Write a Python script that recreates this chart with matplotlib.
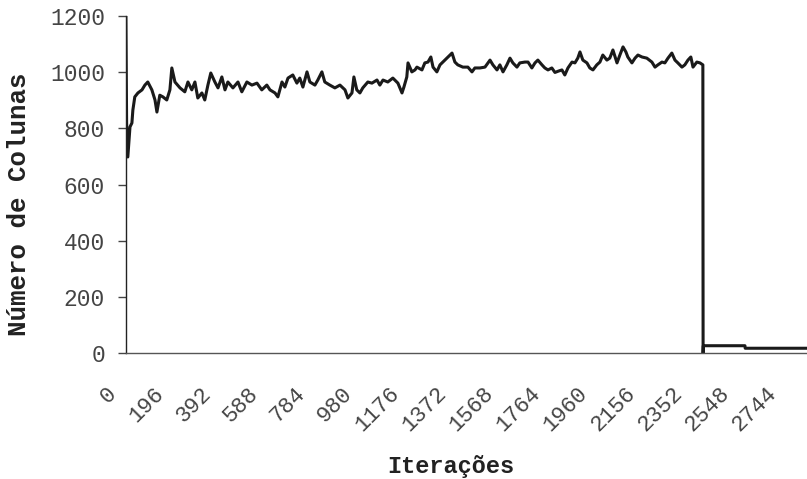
import numpy as np
import matplotlib
matplotlib.use("Agg")
import matplotlib.pyplot as plt
from matplotlib.transforms import ScaledTranslation

# values (iteration, number of columns)
iteracoes = [
    0, 3, 8, 17, 25, 29, 37, 50, 67, 79, 91, 108, 121, 129, 141, 154, 170, 183,
    191, 204, 225, 245, 258, 274, 287, 299, 316, 328, 341, 353, 370, 383, 399,
    412, 424, 445, 466, 482, 503, 524, 545, 565, 586, 599, 620, 632, 649, 661,
    674, 694, 711, 723, 736, 753, 765, 786, 798, 815, 827, 848, 869, 890, 911,
    923, 940, 948, 960, 973, 985, 1006, 1023, 1044, 1056, 1069, 1089, 1110,
    1131, 1148, 1156, 1168, 1173, 1189, 1202, 1210, 1231, 1243, 1256, 1268,
    1277, 1293, 1306, 1318, 1339, 1356, 1368, 1380, 1401, 1422, 1439, 1451,
    1472, 1493, 1514, 1526, 1543, 1555, 1568, 1584, 1597, 1609, 1626, 1638,
    1659, 1672, 1688, 1701, 1713, 1730, 1742, 1755, 1771, 1784, 1796, 1813,
    1825, 1838, 1855, 1867, 1879, 1888, 1900, 1917, 1929, 1942, 1958, 1971,
    1983, 2000, 2012, 2025, 2042, 2054, 2067, 2079, 2087, 2104, 2117, 2129,
    2146, 2166, 2187, 2200, 2212, 2229, 2241, 2254, 2270, 2283, 2295, 2312,
    2324, 2337, 2349, 2358, 2374, 2387, 2399, 2400, 2401, 2574, 2575, 2832,
]
colunas = [
    1200, 820, 698, 805, 819, 865, 912, 926, 937, 954, 965, 937, 901, 858, 918,
    912, 901, 937, 1015, 965, 944, 930, 965, 937, 965, 908, 926, 901, 954, 997,
    965, 944, 983, 937, 965, 944, 965, 930, 965, 954, 961, 937, 954, 937, 926,
    912, 965, 947, 979, 990, 961, 979, 947, 1001, 965, 954, 972, 1001, 965, 954,
    944, 954, 937, 908, 926, 983, 937, 926, 944, 965, 961, 972, 954, 972, 965,
    979, 961, 926, 947, 983, 1033, 1001, 1008, 1018, 1008, 1033, 1036, 1054,
    1018, 1001, 1026, 1036, 1054, 1068, 1036, 1026, 1018, 1018, 1001, 1015,
    1015, 1018, 1043, 1026, 1008, 1026, 1001, 1026, 1050, 1033, 1018, 1033,
    1036, 1036, 1015, 1033, 1043, 1026, 1015, 1008, 1015, 999, 1003, 1008, 990,
    1015, 1036, 1033, 1050, 1072, 1043, 1033, 1015, 1008, 1026, 1036, 1061,
    1043, 1050, 1079, 1033, 1061, 1090, 1072, 1054, 1033, 1050, 1061, 1054,
    1050, 1036, 1018, 1026, 1036, 1033, 1050, 1068, 1043, 1033, 1018, 1026,
    1043, 1054, 1018, 1036, 1033, 1026, 0, 26, 26, 17, 17,
]
xticks = list(range(0, 2745, 196))
yticks = [0, 200, 400, 600, 800, 1000, 1200]

plt.rcParams["font.family"] = ["Liberation Mono", "DejaVu Sans Mono"]

fig = plt.figure(figsize=(8.07, 4.79), dpi=100)
ax = fig.add_axes([0.156, 0.263, 0.844, 0.7036])

ax.plot(iteracoes, colunas, color="#1a1a1a", lw=2.2)

ax.set_xlim(0, 2832)
ax.set_ylim(0, 1200)
ax.set_yticks(yticks)
ax.set_xticks(xticks)
ax.set_xticklabels([str(t) for t in xticks], rotation=45, ha="right",
                   va="center", rotation_mode="anchor")

for side in ["top", "right"]:
    ax.spines[side].set_visible(False)
ax.spines["left"].set_color("#222222")
ax.spines["bottom"].set_color("#555555")
ax.spines["left"].set_linewidth(1.0)
ax.spines["bottom"].set_linewidth(1.0)

ax.tick_params(axis="y", length=6, width=1, color="#444444", pad=9,
               labelsize=16.5, labelcolor="#444444")
ax.tick_params(axis="x", length=0, pad=27, labelsize=16,
               labelcolor="#444444")

shift = ScaledTranslation(-9 / 72, 0, fig.dpi_scale_trans)
for lab in ax.get_xticklabels():
    lab.set_transform(lab.get_transform() + shift)

ax.set_xlabel("Iterações", fontsize=17, fontweight="bold", color="#222222")
ax.xaxis.set_label_coords(0.477, -0.303)
ax.set_ylabel("Número de Colunas", fontsize=18.5, fontweight="bold",
              color="#222222")
ax.yaxis.set_label_coords(-0.14, 0.442)

fig.savefig("out.png", dpi=100)
